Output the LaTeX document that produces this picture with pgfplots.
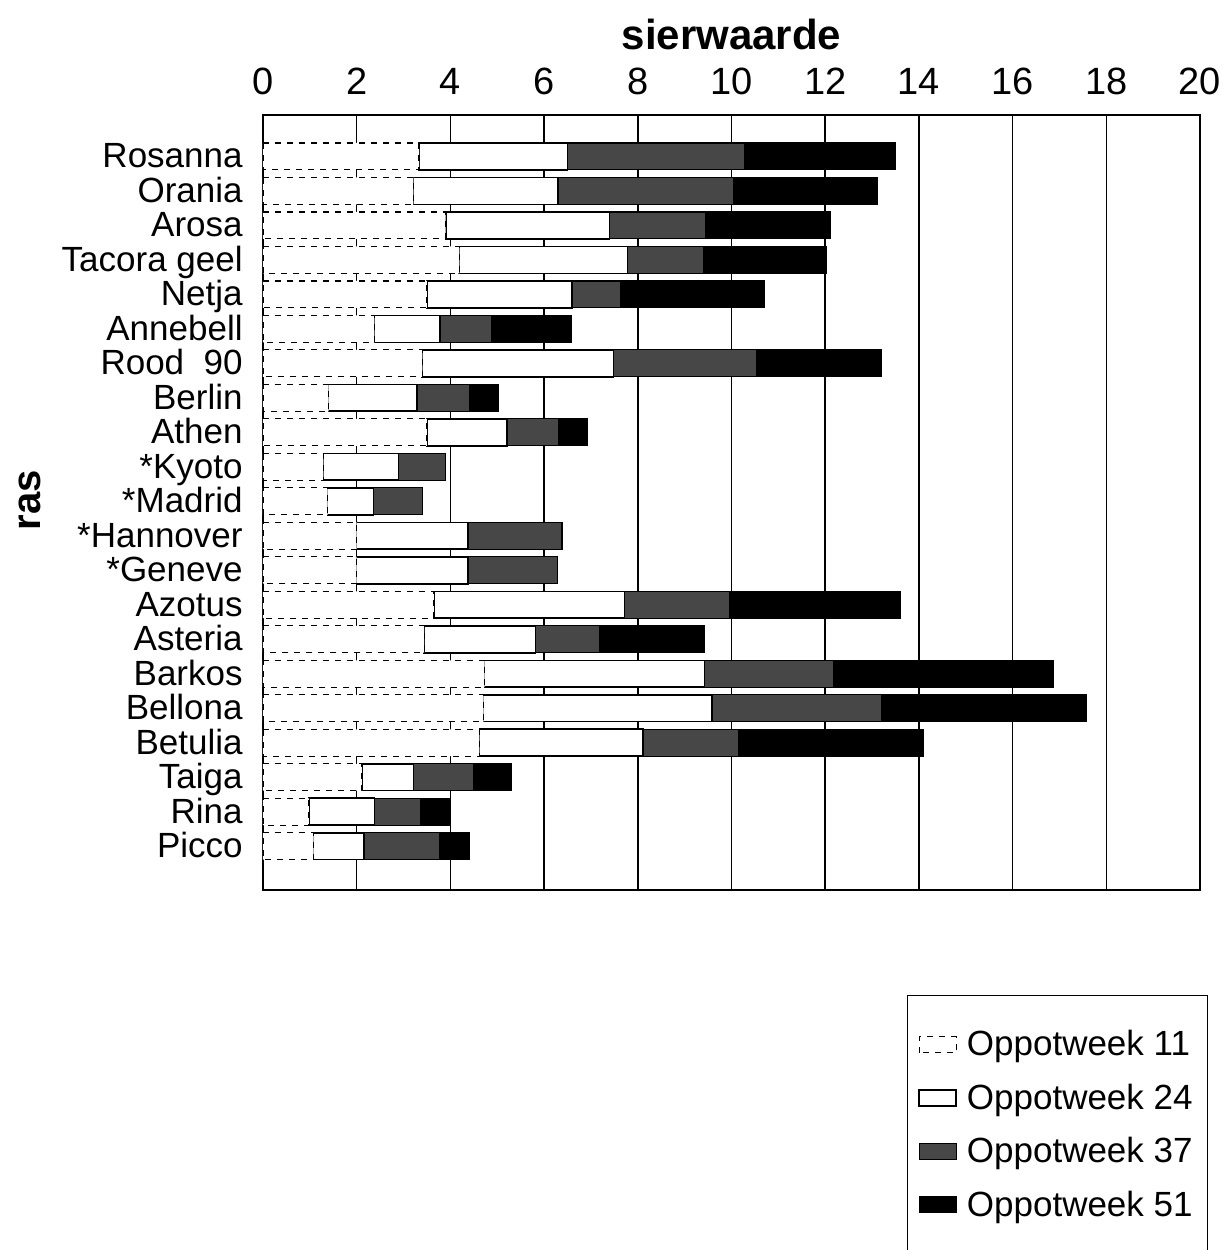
\documentclass[border=0pt]{standalone}
\usepackage{pgfplots}
\pgfplotsset{compat=1.18}
\usepackage{fontspec}
\setmainfont{Liberation Sans}

\begin{document}
\begin{tikzpicture}
\useasboundingbox (0pt,0pt) rectangle (613.5pt,625pt);
\begin{axis}[
  at={(131.5pt,180pt)}, anchor=south west,
  scale only axis, width=468.5pt, height=387.5pt,
  xbar stacked, bar width=0.78,
  xmin=0, xmax=20, xtick={0,2,...,20},
  ymin=-1.2, ymax=21.27, y dir=reverse,
  ytick={0,...,20},
  yticklabels={Rosanna,Orania,Arosa,Tacora geel,Netja,Annebell,{Rood\ \ 90},Berlin,Athen,*Kyoto,*Madrid,*Hannover,*Geneve,Azotus,Asteria,Barkos,Bellona,Betulia,Taiga,Rina,Picco},
  xticklabel pos=upper,
  major tick length=0pt,
  xmajorgrids, grid style={black, line width=0.8pt},
  axis line style={black, line width=0.6pt},
  /pgf/number format/assume math mode=true,
  xticklabel style={font=\fontsize{19}{19}\selectfont, inner sep=0pt, yshift=10pt},
  yticklabel style={font=\fontsize{17.5}{17.5}\selectfont, inner sep=0pt, xshift=-10pt,
    text height=12.5pt, text depth=1pt},
  xlabel={sierwaarde},
  xlabel style={at={(axis description cs:0.5,1.1045)}, anchor=center, font=\fontsize{21}{21}\selectfont\bfseries},
  ylabel={ras},
  ylabel style={at={(axis description cs:-0.2487,0.503)}, anchor=center, font=\fontsize{20}{20}\selectfont\bfseries},
  legend image code/.code={\draw[#1] (0pt,-4pt) rectangle (18.5pt,4pt);},
  legend style={at={(0.687,-0.1355)}, anchor=north west, draw=black, line width=0.6pt,
    font=\fontsize{17.5}{17.5}\selectfont, row sep=8.5pt, inner xsep=5.5pt, inner ysep=15.5pt,
    nodes={inner sep=2pt},
    /tikz/every odd column/.append style={column sep=3pt}},
  legend cell align=left,
]
\addplot[draw=black, line width=0.6pt, dashed, fill=white] coordinates {
 (3.33,0) (3.21,1) (3.90,2) (4.19,3) (3.50,4) (2.38,5) (3.40,6) (1.40,7) (3.50,8) (1.29,9)
 (1.38,10) (2.00,11) (2.00,12) (3.65,13) (3.44,14) (4.73,15) (4.71,16) (4.62,17) (2.11,18) (0.98,19) (1.08,20)
};
\addlegendentry{Oppotweek 11}
\addplot[draw=black, line width=0.8pt, fill=white] coordinates {
 (3.17,0) (3.09,1) (3.50,2) (3.59,3) (3.09,4) (1.40,5) (4.08,6) (1.89,7) (1.71,8) (1.60,9)
 (0.98,10) (2.38,11) (2.38,12) (4.07,13) (2.38,14) (4.69,15) (4.87,16) (3.49,17) (1.10,18) (1.40,19) (1.07,20)
};
\addlegendentry{Oppotweek 24}
\addplot[draw=black, line width=0.6pt, fill=black!72] coordinates {
 (3.79,0) (3.75,1) (2.05,2) (1.62,3) (1.05,4) (1.10,5) (3.06,6) (1.12,7) (1.10,8) (1.01,9)
 (1.05,10) (2.00,11) (1.90,12) (2.25,13) (1.37,14) (2.76,15) (3.62,16) (2.05,17) (1.29,18) (0.99,19) (1.63,20)
};
\addlegendentry{Oppotweek 37}
\addplot[draw=black, line width=0.6pt, fill=black] coordinates {
 (3.21,0) (3.06,1) (2.66,2) (2.62,3) (3.07,4) (1.71,5) (2.65,6) (0.62,7) (0.62,8) (0,9)
 (0,10) (0,11) (0,12) (3.63,13) (2.23,14) (4.70,15) (4.38,16) (3.93,17) (0.81,18) (0.64,19) (0.62,20)
};
\addlegendentry{Oppotweek 51}
\end{axis}
\end{tikzpicture}
\end{document}
